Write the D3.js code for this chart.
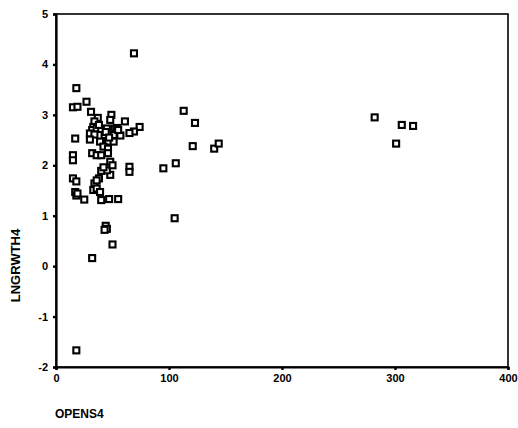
<!DOCTYPE html>
<html>
<head>
<meta charset="utf-8">
<script src="https://cdn.jsdelivr.net/npm/d3@7/dist/d3.min.js"></script>
<style>
  body { margin: 0; background: #fff; }
  svg { display: block; font-family: "Liberation Sans", Arial, sans-serif; }
</style>
</head>
<body>
<svg id="chart" width="518" height="428"></svg>
<script>
// OPENS4 vs LNGRWTH4
const opens4 = [
  18, 15, 19, 27, 31, 49, 48, 37, 34, 33, 32, 36, 40, 45, 52, 30, 34, 48, 43, 51,
  17, 30, 39, 46, 51, 42, 46, 61, 74, 69, 65, 54, 57, 15, 15, 32, 36, 40, 46, 48,
  48, 45, 40, 38, 34, 33, 36, 39, 15, 18, 17, 18, 19, 25, 40, 47, 55, 65, 65, 44,
  45, 43, 50, 32, 18, 69, 95, 106, 105, 113, 123, 121, 140, 144, 282, 306, 316, 301, 42, 50,
  55, 38, 44, 47, 36
];
const lngrwth4 = [
  3.53, 3.15, 3.16, 3.26, 3.06, 3.00, 2.90, 2.94, 2.87, 2.76, 2.70, 2.73, 2.72, 2.73, 2.73, 2.63, 2.61, 2.63, 2.60, 2.60,
  2.53, 2.51, 2.47, 2.47, 2.47, 2.37, 2.33, 2.87, 2.76, 2.67, 2.64, 2.74, 2.59, 2.20, 2.10, 2.24, 2.20, 2.20, 2.24, 2.07,
  1.81, 1.90, 1.89, 1.74, 1.64, 1.51, 1.54, 1.47, 1.74, 1.68, 1.47, 1.40, 1.44, 1.32, 1.31, 1.33, 1.33, 1.97, 1.87, 0.80,
  0.74, 0.72, 0.43, 0.16, -1.67, 4.22, 1.94, 2.04, 0.95, 3.08, 2.84, 2.38, 2.33, 2.43, 2.95, 2.80, 2.78, 2.43, 1.96, 2.00,
  2.70, 2.80, 2.66, 2.55, 1.70
];
const xTicks = [0, 100, 200, 300, 400];
const yTicks = [-2, -1, 0, 1, 2, 3, 4, 5];

const points = opens4.map((v, i) => ({ x: v, y: lngrwth4[i] }));

const svg = d3.select("#chart");
const margin = { left: 56, right: 10, top: 14, bottom: 61 };
const width = 518, height = 428;

const x = d3.scaleLinear().domain([0, 400]).range([margin.left, width - margin.right]);
const y = d3.scaleLinear().domain([-2, 5]).range([height - margin.bottom, margin.top]);

// plain hyphen for negatives, like the original print
const plain = (d) => String(d);

// ── frame ──
svg.append("rect")
  .attr("x", x(0)).attr("y", y(5))
  .attr("width", x(400) - x(0)).attr("height", y(-2) - y(5))
  .attr("fill", "none").attr("stroke", "#000").attr("stroke-width", 1.6);

// ── axes ──
const xAxis = svg.append("g")
  .attr("transform", `translate(0,${y(-2)})`)
  .call(d3.axisBottom(x).tickValues(xTicks).tickSize(3).tickPadding(4).tickFormat(plain));
const yAxis = svg.append("g")
  .attr("transform", `translate(${x(0)},0)`)
  .call(d3.axisLeft(y).tickValues(yTicks).tickSize(3).tickPadding(5).tickFormat(plain));

[xAxis, yAxis].forEach((ax) => {
  ax.select(".domain").attr("stroke-width", 2.2);
  ax.selectAll(".tick line").attr("stroke-width", 2.4);
  ax.selectAll(".tick text")
    .attr("fill", "#000")
    .style("font-size", "11px")
    .style("font-weight", "bold");
});

// ── markers ──
const s = 6;
svg.append("g")
  .selectAll("rect")
  .data(points)
  .join("rect")
  .attr("x", (d) => x(d.x) - s / 2)
  .attr("y", (d) => y(d.y) - s / 2)
  .attr("width", s)
  .attr("height", s)
  .attr("fill", "#fff")
  .attr("stroke", "#000")
  .attr("stroke-width", 2.1);

// ── axis titles ──
svg.append("text")
  .attr("transform", `translate(20,${(y(-2) + y(5)) / 2 + 75}) rotate(-90)`)
  .attr("text-anchor", "middle")
  .style("font-size", "13px")
  .style("font-weight", "bold")
  .text("LNGRWTH4");

svg.append("text")
  .attr("x", 55)
  .attr("y", 418)
  .style("font-size", "12px")
  .style("font-weight", "bold")
  .text("OPENS4");
</script>
</body>
</html>
